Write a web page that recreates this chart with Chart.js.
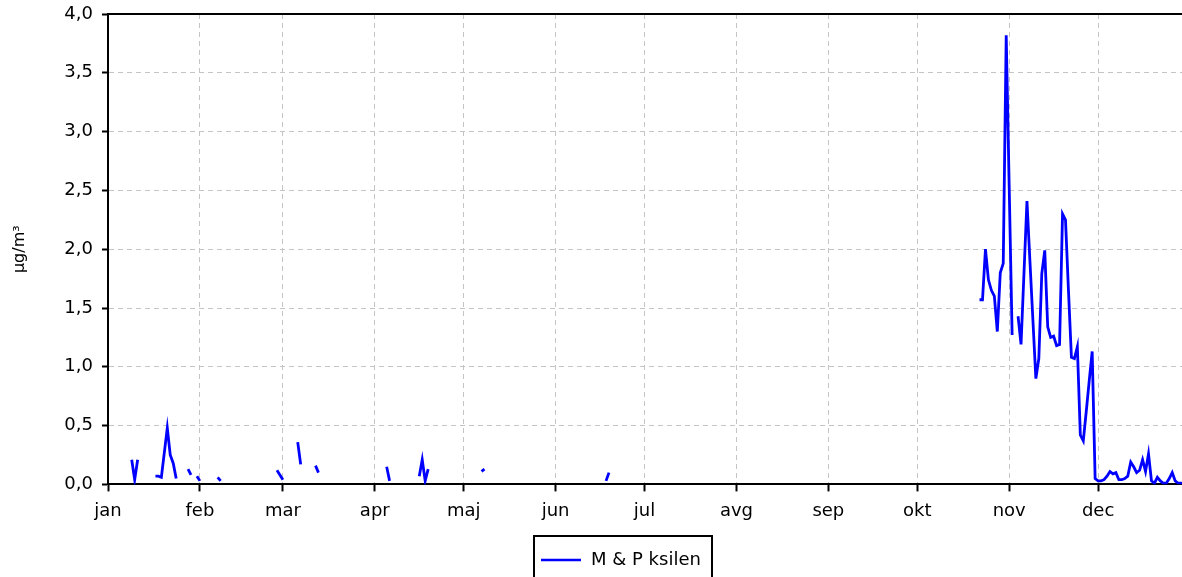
<!DOCTYPE html>
<html>
<head>
<meta charset="utf-8">
<script src="https://cdn.jsdelivr.net/npm/chart.js@4.4.1/dist/chart.umd.min.js"></script>
<style>
html,body{margin:0;padding:0;background:#fff;overflow:hidden;}
#wrap{width:1182px;height:577px;position:relative;}
</style>
</head>
<body>
<div id="wrap"><canvas id="c" width="1182" height="577"></canvas></div>
<script>
// ---- data (day of year, 0 = 1 January) ----
const seriesLabel = 'M & P ksilen';
const yAxisTitle = 'µg/m³';
const monthStarts = [0, 31, 59, 90, 120, 151, 181, 212, 243, 273, 304, 334];
const monthLabels = ['jan', 'feb', 'mar', 'apr', 'maj', 'jun', 'jul', 'avg', 'sep', 'okt', 'nov', 'dec'];
const yTicks = [0, 0.5, 1.0, 1.5, 2.0, 2.5, 3.0, 3.5, 4.0];

const winterDays   = [8, 9, 10, 16, 17, 18, 19, 20, 21, 22, 23, 27, 28, 30, 31, 37, 38];
const winterValues = [0.21, 0.04, 0.21, 0.07, 0.07, 0.06, 0.27, 0.48, 0.25, 0.18, 0.05, 0.13, 0.08, 0.07, 0.03, 0.06, 0.03];

const springDays   = [57, 58, 59, 64, 65, 70, 71, 94, 95, 105, 106, 107, 108, 126, 127, 168, 169];
const springValues = [0.12, 0.08, 0.04, 0.36, 0.17, 0.16, 0.10, 0.15, 0.03, 0.07, 0.21, 0.03, 0.13, 0.11, 0.13, 0.03, 0.10];

const autumnDays   = [294, 295, 296, 297, 298, 299, 300, 301, 302, 303, 304, 305,
                      307, 308, 309, 310, 311, 312, 313, 314, 315, 316, 317, 318, 319, 320,
                      321, 322, 323, 324, 325, 326, 327, 328, 329, 330, 331, 332];
const autumnValues = [1.57, 1.57, 2.00, 1.74, 1.65, 1.60, 1.30, 1.80, 1.88, 3.82, 2.54, 1.27,
                      1.43, 1.19, 1.80, 2.41, 1.90, 1.40, 0.90, 1.07, 1.79, 1.99, 1.34, 1.25, 1.26, 1.18,
                      1.19, 2.30, 2.25, 1.65, 1.08, 1.07, 1.17, 0.42, 0.37, 0.62, 0.88, 1.13];

const decemberDays   = [333, 334, 335, 336, 337, 338, 339, 340, 341, 342, 343, 344, 345, 346, 347, 348,
                        349, 350, 351, 352, 353, 354, 355, 356, 357, 358, 359, 360, 361, 362, 363, 364];
const decemberValues = [0.05, 0.03, 0.03, 0.04, 0.07, 0.11, 0.09, 0.10, 0.04, 0.04, 0.05, 0.07, 0.19, 0.15, 0.10, 0.12,
                        0.21, 0.11, 0.26, 0.03, 0.01, 0.06, 0.03, 0.01, 0.01, 0.05, 0.10, 0.03, 0.01, 0.01, 0.01, 0.01];

// ---- build daily series (missing days = gaps) ----
const daily = new Array(365).fill(null);
[[winterDays, winterValues], [springDays, springValues], [autumnDays, autumnValues], [decemberDays, decemberValues]]
  .forEach(([d, v]) => d.forEach((day, i) => { daily[day] = v[i]; }));
const points = daily.map((v, i) => ({x: i, y: v}));

const FONT = 'DejaVu Sans';

const frameAndLegend = {
  id: 'frameAndLegend',
  afterDraw(chart) {
    const ctx = chart.ctx;
    const a = chart.chartArea;
    ctx.save();
    // top frame line
    ctx.strokeStyle = '#000';
    ctx.lineWidth = 2;
    ctx.beginPath();
    ctx.moveTo(a.left, a.top);
    ctx.lineTo(a.right + 5, a.top);
    ctx.stroke();
    // legend box
    const ds = chart.data.datasets[0];
    ctx.lineWidth = 2;
    ctx.strokeRect(534, 536, 178, 60);
    ctx.strokeStyle = ds.borderColor;
    ctx.lineWidth = 2.5;
    ctx.beginPath();
    ctx.moveTo(541, 560);
    ctx.lineTo(581, 560);
    ctx.stroke();
    ctx.fillStyle = '#000';
    ctx.font = '18px "' + FONT + '"';
    ctx.textBaseline = 'middle';
    ctx.textAlign = 'left';
    ctx.fillText(ds.label, 591, 560);
    ctx.restore();
  }
};

const gridCommon = {
  color: '#c4c4c4',
  lineWidth: 1,
  tickColor: '#000',
  tickWidth: 2,
  tickBorderDash: []
};

new Chart(document.getElementById('c'), {
  type: 'line',
  data: {
    datasets: [{
      label: seriesLabel,
      data: points,
      borderColor: '#0000ff',
      backgroundColor: '#0000ff',
      borderWidth: 2.8,
      pointRadius: 0,
      tension: 0,
      spanGaps: false
    }]
  },
  options: {
    responsive: false,
    animation: false,
    layout: {padding: {top: 14, right: 0, bottom: 46, left: 0}},
    plugins: {
      legend: {display: false},
      tooltip: {enabled: false}
    },
    scales: {
      x: {
        type: 'linear',
        min: 0,
        max: 362.3,
        afterBuildTicks: s => { s.ticks = monthStarts.map(v => ({value: v})); },
        ticks: {
          autoSkip: false,
          maxRotation: 0,
          padding: 9,
          color: '#000',
          font: {family: FONT, size: 18},
          callback: v => monthLabels[monthStarts.indexOf(v)]
        },
        grid: Object.assign({tickLength: 7}, gridCommon),
        border: {display: true, color: '#000', width: 2, dash: [5, 4]}
      },
      y: {
        min: 0,
        max: 4,
        afterBuildTicks: s => { s.ticks = yTicks.map(v => ({value: v})); },
        afterFit: s => { s.width = 108; s.paddingTop = 0; s.paddingBottom = 0; },
        ticks: {
          padding: 9,
          color: '#000',
          font: {family: FONT, size: 18},
          callback: v => v.toFixed(1).replace('.', ',')
        },
        grid: Object.assign({tickLength: 6}, gridCommon),
        border: {display: true, color: '#000', width: 2, dash: [5, 4]},
        title: {
          display: true,
          text: yAxisTitle,
          color: '#000',
          font: {family: FONT, size: 16},
          padding: {top: 10, bottom: 0}
        }
      }
    }
  },
  plugins: [frameAndLegend]
});
</script>
</body>
</html>
